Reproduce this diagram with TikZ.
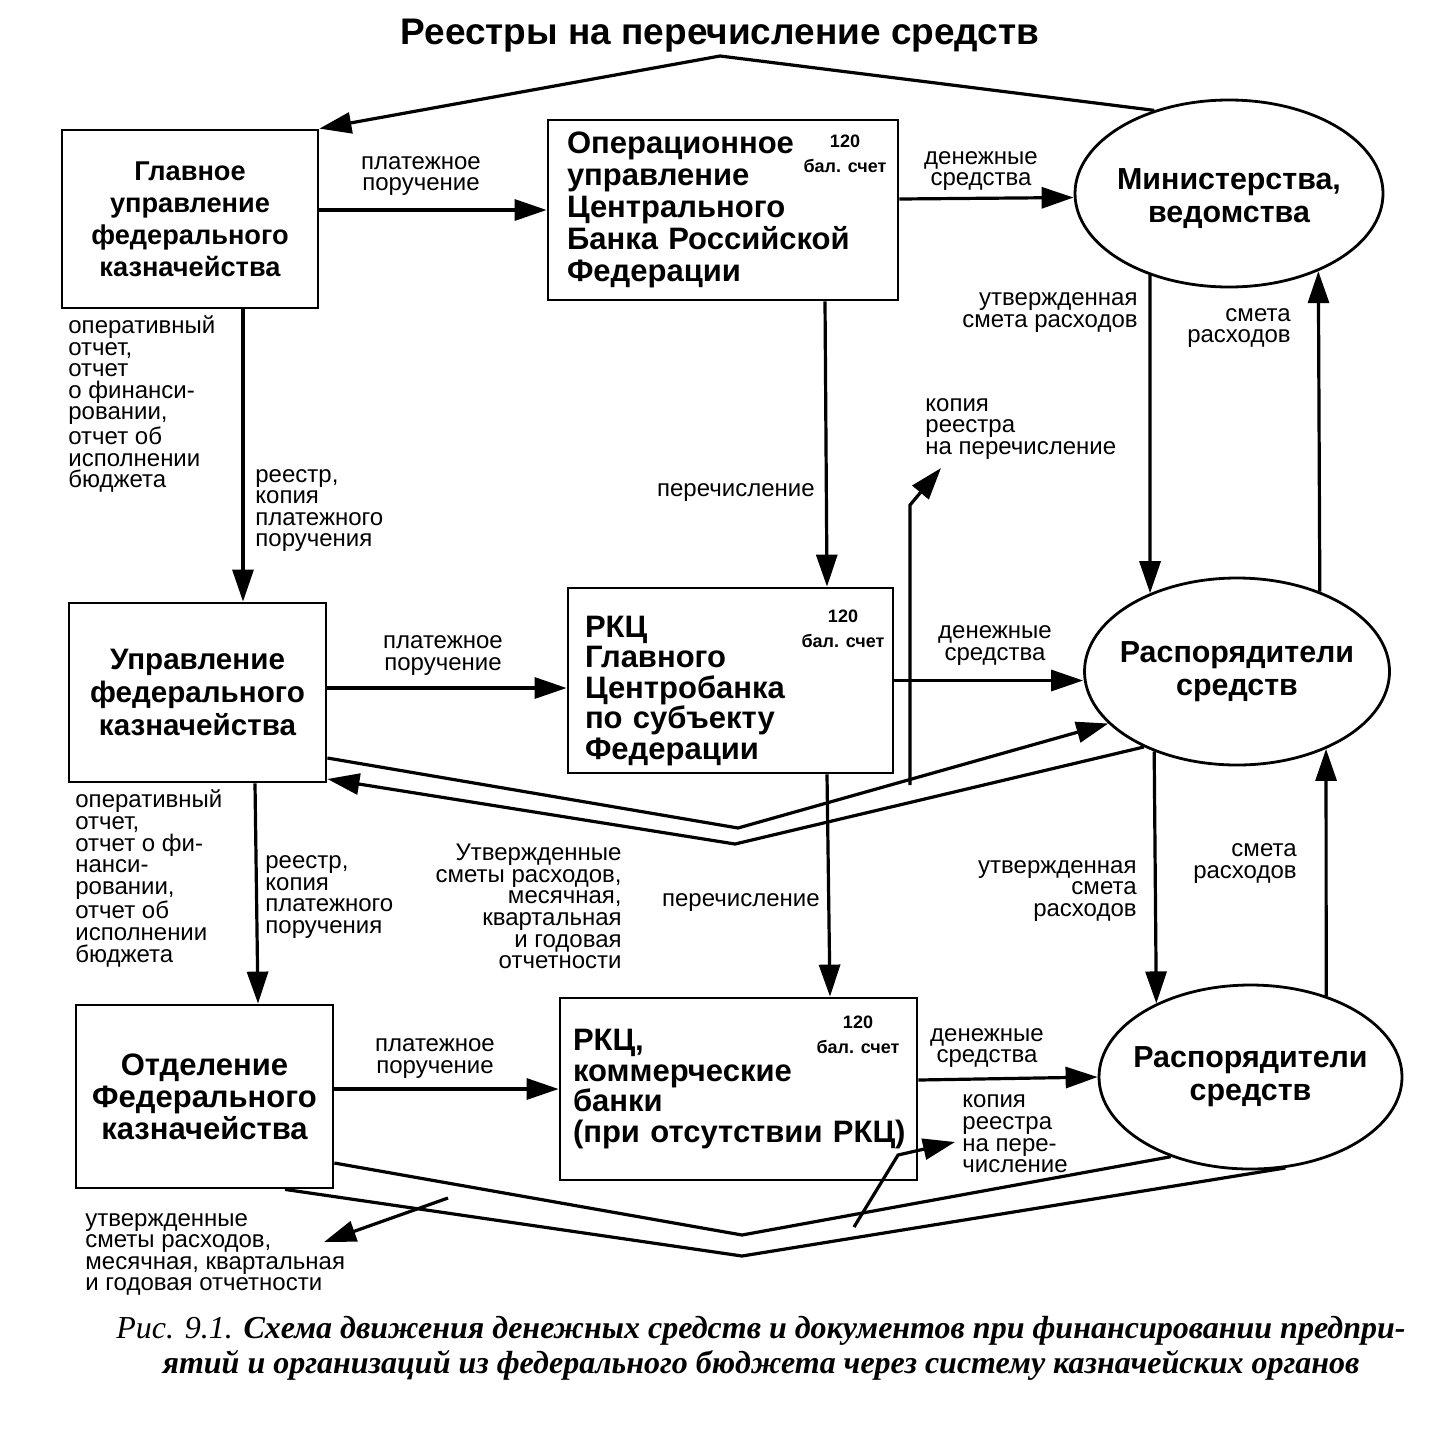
\documentclass[tikz,border=0pt]{standalone}
\usepackage{fontspec}
\setmainfont{Liberation Sans}
\newfontfamily\capfont{Liberation Serif}
\usetikzlibrary{shapes.geometric,arrows.meta,calc}
\newcommand\myboxfont{\bfseries\fontsize{15.5}{16}\selectfont}
\newcommand\myboxfontA{\bfseries\fontsize{13.6}{16}\selectfont}
\newcommand\myboxfontB{\bfseries\fontsize{14.8}{16.3}\selectfont}
\newcommand\myboxfontC{\bfseries\fontsize{15.5}{15.2}\selectfont}
\newcommand\myellfont{\bfseries\fontsize{15.2}{16.5}\selectfont}
\newcommand\mylblfont{\fontsize{12}{10.8}\selectfont}
\newcommand\myacctfont{\bfseries\fontsize{9}{12.5}\selectfont}
\tikzset{
  box/.style={draw, line width=1.4pt, inner sep=0pt, font=\myboxfont},
  ell/.style={draw, ellipse, line width=1.4pt, inner xsep=-8pt, inner ysep=0pt, font=\myellfont, align=center},
  lbl/.style={inner sep=0pt, font=\mylblfont},
  acct/.style={inner sep=0pt, font=\myacctfont, align=center},
  arr/.style={line width=1.6pt, -{Triangle[length=16pt,width=10.5pt]}},
  ln/.style={line width=1.6pt},
}
\begin{document}
\begin{tikzpicture}[x=0.5pt,y=-0.5pt]
\useasboundingbox (0,0) rectangle (1444,1441);
\fill[white] (0,0) rectangle (1444,1441);

% title
\node[inner sep=0pt, font=\bfseries\fontsize{18.5}{20}\selectfont] (title) at (720,36) {Реестры на перечисление средств};

% boxes
\node[box, minimum width=128pt, minimum height=89pt, align=center, font=\myboxfontA] (b1) at (190,219) {Главное\\управление\\федерального\\казначейства};
\node[box, text width=156pt, inner xsep=9.5pt, minimum height=90pt, align=left] (b2) at (723,210) {Операционное\\управление\\Центрального\\Банка Российской\\Федерации};
\node[box, minimum width=128.5pt, minimum height=89.5pt, align=center, font=\myboxfontB] (b3) at (197.5,692.5) {Управление\\федерального\\казначейства};
\node[box, text width=145.5pt, inner xsep=8.5pt, minimum height=92.5pt, align=left, font=\myboxfontC] (b4) at (730.5,680.5) {\rule{0pt}{21pt}РКЦ\\Главного\\Центробанка\\по субъекту\\Федерации};
\node[box, text width=165.5pt, inner xsep=6.5pt, minimum height=91pt, align=left, font=\myboxfontC] (b5) at (738.5,1089) {РКЦ,\\коммерческие\\банки\\\mbox{(при отсутствии РКЦ)}};
\node[box, minimum width=128.5pt, minimum height=91.5pt, align=center] (b6) at (204.5,1096.5) {Отделение\\Федерального\\казначейства};

% account labels
\node[acct] (a2) at (845,154) {120\\бал. счет};
\node[acct] (a4) at (843,629) {120\\бал. счет};
\node[acct] (a5) at (858,1035) {120\\бал. счет};

% ellipses
\node[ell, minimum width=154pt, minimum height=93.5pt] (e1) at (1229,193.5) {\rule{0pt}{16pt}Министерства,\\ведомства};
\node[ell, minimum width=152.5pt, minimum height=93.5pt] (e2) at (1237,671.5) {Распорядители\\средств};
\node[ell, minimum width=151.5pt, minimum height=92pt] (e3) at (1250.5,1077) {Распорядители\\средств};

% coordinates
\coordinate (ta) at (720,56);
\coordinate (c2u) at (738,828);
\coordinate (c2l) at (735,844);
\coordinate (k1) at (910,785);
\coordinate (k2) at (910,505);
\coordinate (k3) at (941,468);
\coordinate (c3u) at (742,1235);
\coordinate (c3l) at (742,1256);
\coordinate (u1) at (448,1198);
\coordinate (u2) at (324,1242);
\coordinate (m1) at (854,1227);
\coordinate (m2) at (898,1155);
\coordinate (m3) at (955,1142);

% connectors
\draw[arr] (e1.132) -- (ta) -- (b1.north east);
\draw[arr] (b1.east |- b2.west) -- (b2.west);
\draw[arr] ([yshift=5.5pt]b2.east) -- ([yshift=-2pt]e1.west);
\draw[arr] ([xshift=26.5pt]b1.south) -- ([xshift=22.75pt]b3.north);
\draw[arr] ([xshift=51pt]b2.south) -- ([xshift=48.25pt]b4.north);
\draw[arr] (e1.226) -- (e2.138);
\draw[arr] (e2.44) -- (e1.319);

\draw[arr] ([yshift=2.25pt]b3.east) -- ([yshift=-3.75pt]b4.west);
\draw[arr] (b4.east) -- (e2.west |- b4.east);
\draw[arr] ([yshift=-32.75pt]b3.east) -- (c2u) -- (e2.202);
\draw[arr] (e2.219) -- (c2l) -- ([yshift=-43.25pt]b3.east);
\draw[arr] (k1) -- (k2) -- (k3);
\draw[arr] ([xshift=28.75pt]b3.south) -- ([xshift=26.75pt]b6.north);
\draw[arr] ([xshift=48.25pt]b4.south) -- ([xshift=45.75pt]b5.north);
\draw[arr] (e2.224) -- (e3.142);
\draw[arr] (e3.47) -- (e2.319);

\draw[arr] (b6.east |- b5.west) -- (b5.west);
\draw[arr] ([yshift=4.5pt]b5.east) -- (e3.west);
\draw[ln] ([yshift=-33.25pt]b6.east) -- (c3u) -- (e3.225);
\draw[ln] ([xshift=40.25pt]b6.south) -- (c3l) -- (e3.291);
\draw[arr] (u1) -- (u2);
\draw[arr] (m1) -- (m2) -- (m3);

% labels
\node[lbl, align=center] (l1) at (421,176) {платежное\\поручение};
\node[lbl, align=center] (l2) at (981,171) {денежные\\средства};
\node[lbl, align=left, anchor=west] (l3) at (68,404) {оперативный\\отчет,\\отчет\\о финанси-\\ровании,\\отчет об\\исполнении\\бюджета};
\node[lbl, align=left, anchor=west] (l4) at (255,510.5) {реестр,\\копия\\платежного\\поручения};
\node[lbl, anchor=east] (l5) at (815,493) {перечисление};
\node[lbl, align=right, anchor=east] (l6) at (1138,312.5) {утвержденная\\смета расходов};
\node[lbl, align=right, anchor=east] (l7) at (1291,328) {смета\\расходов};
\node[lbl, align=left, anchor=west] (l8) at (925,429) {копия\\реестра\\на перечисление};
\node[lbl, align=center] (l9) at (443,655.5) {платежное\\поручение};
\node[lbl, align=center] (l10) at (995,645.5) {денежные\\средства};
\node[lbl, align=left, anchor=west] (l11) at (75,878.5) {оперативный\\отчет,\\отчет о фи-\\нанси-\\ровании,\\отчет об\\исполнении\\бюджета};
\node[lbl, align=left, anchor=west] (l12) at (265,897) {реестр,\\копия\\платежного\\поручения};
\node[lbl, align=right, anchor=east] (l13) at (622,906.5) {Утвержденные\\сметы расходов,\\месячная,\\квартальная\\и годовая\\отчетности};
\node[lbl, anchor=east] (l14) at (820,903) {перечисление};
\node[lbl, align=right, anchor=east] (l15) at (1137,891) {утвержденная\\смета\\расходов};
\node[lbl, align=right, anchor=east] (l16) at (1297,863.5) {смета\\расходов};
\node[lbl, align=center] (l17) at (435,1058.5) {платежное\\поручение};
\node[lbl, align=center] (l18) at (987,1048) {денежные\\средства};
\node[lbl, align=left, anchor=west] (l19) at (962,1134) {копия\\реестра\\на пере-\\числение};
\node[lbl, align=left, anchor=west] (l20) at (85,1254.5) {утвержденные\\сметы расходов,\\месячная, квартальная\\и годовая отчетности};

% caption
\node[inner sep=0pt, align=center, font=\capfont\fontsize{16}{17.5}\selectfont] (cap) at (761,1348)
 {{\itshape Рис. 9.1. }{\bfseries\itshape Схема движения денежных средств и документов при финансировании предпри-}\\
  {\bfseries\itshape ятий и организаций из федерального бюджета через систему казначейских органов}};
\end{tikzpicture}
\end{document}
